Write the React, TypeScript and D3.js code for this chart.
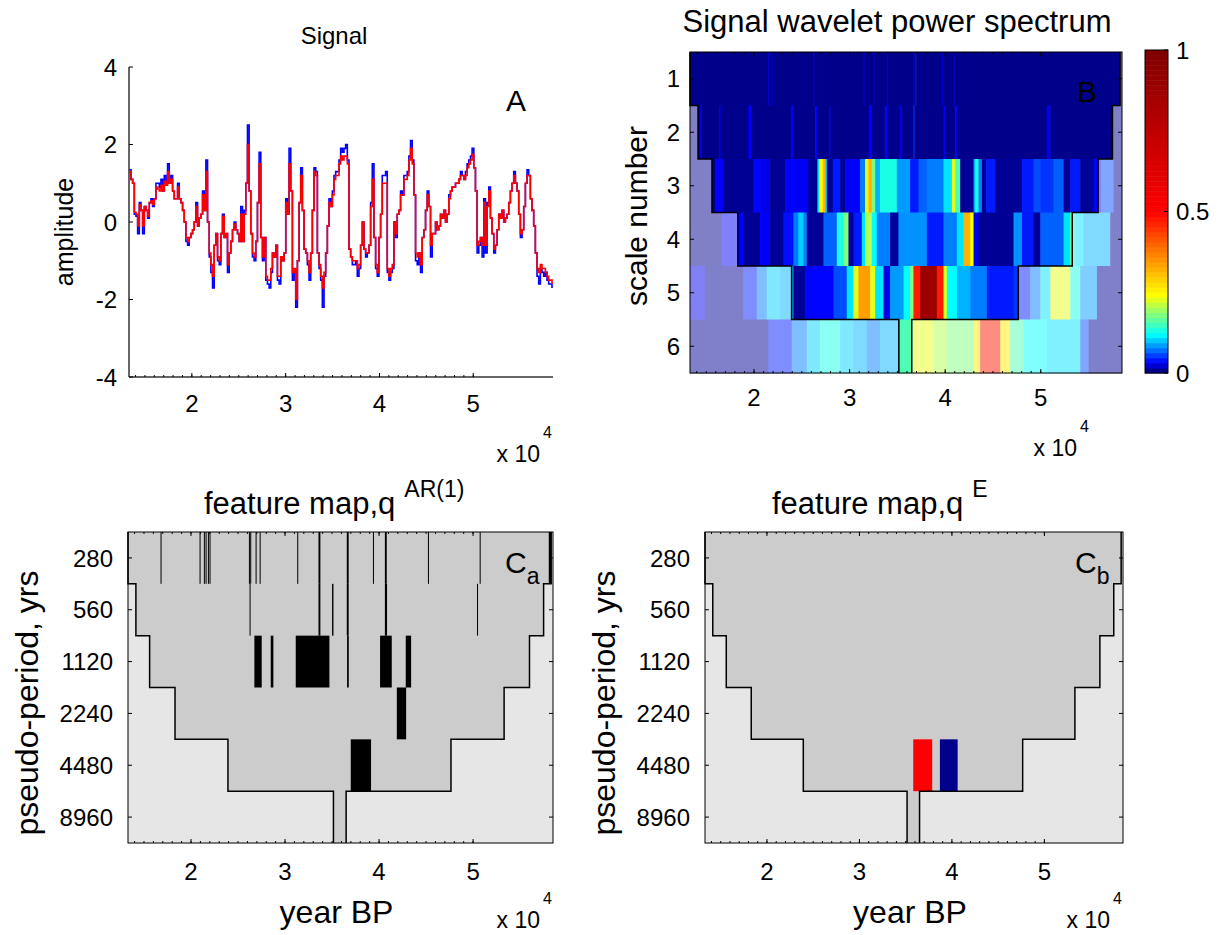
import React from 'react';
import * as d3 from 'd3';

const FONT = '"Liberation Sans", Arial, Helvetica, sans-serif';

const yearDomain = [13300, 58500];
const yearTicks = [20000, 30000, 40000, 50000];
const yearTickLabels = ['2', '3', '4', '5'];
const ampTicks = [-4, -2, 0, 2, 4];
const scaleNumbers = [1, 2, 3, 4, 5, 6];
const scaleLabels = ['1', '2', '3', '4', '5', '6'];
const periodLabels = ['280', '560', '1120', '2240', '4480', '8960'];
const colorbarTicks = [0, 0.5, 1];
const colorbarLabels = ['0', '0.5', '1'];

// colour map of the power spectrum (jet anchors placed along the power axis)
const cmapStops = [0, 0.026, 0.113, 0.237, 0.5, 1];
const cmapColors = ['#00008b', '#0000ff', '#00ffff', '#ffff00', '#ff0000', '#800000'];

// signal, one sample every 177.4 yr starting at 13335 yr BP
const signalStart = 13335;
const signalStep = 177.4;
const signalRaw = [
  1.35, 1.1, 1.0, 0.2, 0.15, -0.3, 0.5, 0.3, -0.3, 0.4,
  0.3, 0.1, 0.5, 0.6, 0.4, 0.6, 1.0, 1.0, 0.9, 1.1,
  0.8, 1.2, 1.0, 1.5, 1.0, 1.2, 0.8, 0.6, 0.6, 1.0,
  0.6, 0.5, 0.3, 0.0, -0.5, -0.6, -0.4, -0.3, -0.2, 0.0,
  0.5, -0.1, 0.1, 0.2, 0.8, 0.3, 1.6, 0.0, -0.9, -1.3,
  -1.7, -0.6, -0.3, -1.0, -1.1, -0.3, 0.2, -0.4, -0.3, -1.3,
  -0.8, -0.5, -0.2, 0.0, -0.2, -0.3, -0.5, 0.4, -0.5, 0.3,
  1.0, 2.5, 0.8, -0.3, -0.9, -1.0, -0.5, 0.5, 1.8, -0.4,
  -1.0, -0.4, -1.5, -1.6, -1.7, -1.3, -0.8, -0.9, -0.6, -1.5,
  -1.6, -0.9, -1.0, -0.8, 0.6, 0.2, 1.9, 0.8, -1.5, -1.3,
  -2.2, -1.0, 0.5, 1.4, 0.3, -0.7, -0.8, -1.1, -1.5, -0.8,
  0.3, 1.4, 1.3, -0.8, -1.2, -1.5, -2.2, -1.4, -0.8, -0.1,
  0.6, 0.4, 0.8, 1.2, 1.3, 1.3, 1.6, 1.9, 1.8, 1.9,
  2.0, 1.6, -0.7, -0.9, -1.1, -1.1, -1.0, -1.4, -1.2, -0.6,
  0.0, -0.7, -0.9, -0.8, -0.6, 0.5, 1.5, -0.4, -1.2, -1.4,
  -0.4, 0.2, 1.2, 1.2, 1.3, -1.3, -1.5, -1.3, -1.2, 0.0,
  -0.4, 0.2, 0.3, 0.8, 0.7, 1.2, 1.2, 1.3, 1.7, 2.1,
  1.6, 0.7, -1.0, -1.1, -0.8, -1.3, -0.4, -0.2, 0.3, 0.8,
  0.4, -0.9, -0.3, -0.3, 0.0, -0.2, -0.1, 0.2, 0.1, 0.3,
  0.0, 0.2, 0.7, 0.8, 0.9, 0.9, 1.0, 1.0, 1.1, 1.3,
  1.2, 1.1, 1.3, 1.5, 1.6, 1.7, 1.9, 1.4, 0.8, -0.8,
  -0.6, -0.4, -0.9, 0.6, -0.8, 0.5, 0.9, 0.1, -0.3, -0.8,
  -0.6, -0.2, 0.2, 0.1, 0.3, 0.0, 0.1, 0.2, 0.5, 0.8,
  1.0, 1.3, 1.0, 0.8, 0.2, -0.4, -0.2, 0.4, 1.0, 1.35,
  1.2, 0.6, 0.3, -0.1, -0.8, -1.4, -1.6, -1.2, -1.3, -1.4,
  -1.3, -1.5, -1.6, -1.6, -1.7,
];
const signalFiltered = [
  1.3, 1.1, 1.0, 0.25, 0.2, -0.1, 0.45, 0.3, -0.1, 0.4,
  0.3, 0.15, 0.5, 0.55, 0.45, 0.6, 0.9, 0.85, 0.8, 0.95,
  0.8, 1.05, 0.95, 1.3, 1.0, 1.1, 0.8, 0.6, 0.6, 0.9,
  0.6, 0.5, 0.3, 0.0, -0.4, -0.5, -0.4, -0.3, -0.2, 0.0,
  0.4, -0.1, 0.1, 0.2, 0.7, 0.3, 1.3, 0.0, -0.8, -1.1,
  -1.4, -0.6, -0.3, -0.9, -1.0, -0.3, 0.15, -0.4, -0.3, -1.1,
  -0.8, -0.5, -0.2, -0.05, -0.2, -0.3, -0.5, 0.2, -0.5, 0.2,
  1.0, 2.0, 0.8, -0.3, -0.8, -0.9, -0.5, 0.5, 1.5, -0.4,
  -0.9, -0.4, -1.4, -1.5, -1.5, -1.2, -0.8, -0.9, -0.6, -1.4,
  -1.4, -0.9, -1.0, -0.8, 0.5, 0.2, 1.5, 0.8, -1.3, -1.2,
  -2.0, -1.0, 0.5, 1.2, 0.3, -0.7, -0.8, -1.0, -1.3, -0.8,
  0.3, 1.3, 1.2, -0.8, -1.1, -1.4, -1.7, -1.3, -0.8, -0.1,
  0.5, 0.4, 0.7, 1.1, 1.2, 1.2, 1.5, 1.7, 1.6, 1.7,
  1.7, 1.5, -0.7, -0.9, -1.0, -1.0, -1.0, -1.2, -1.1, -0.6,
  0.0, -0.7, -0.8, -0.8, -0.6, 0.4, 1.1, -0.4, -1.1, -1.3,
  -0.4, 0.2, 1.0, 1.0, 1.0, -1.2, -1.4, -1.2, -1.1, 0.0,
  -0.3, 0.2, 0.3, 0.7, 0.7, 1.1, 1.1, 1.2, 1.6, 1.9,
  1.5, 0.7, -0.8, -0.9, -0.8, -1.1, -0.4, -0.2, 0.3, 0.7,
  0.4, -0.6, -0.3, -0.3, 0.0, -0.2, -0.1, 0.2, 0.1, 0.3,
  0.0, 0.2, 0.6, 0.8, 0.9, 0.9, 1.0, 1.0, 1.1, 1.2,
  1.2, 1.1, 1.2, 1.4, 1.5, 1.6, 1.75, 1.4, 0.8, -0.6,
  -0.5, -0.4, -0.6, 0.5, -0.6, 0.4, 0.8, 0.1, -0.3, -0.7,
  -0.6, -0.2, 0.2, 0.1, 0.3, 0.0, 0.1, 0.2, 0.5, 0.8,
  1.0, 1.2, 1.0, 0.8, 0.2, -0.3, -0.2, 0.4, 1.0, 1.2,
  1.2, 0.6, 0.3, -0.1, -0.8, -1.2, -1.3, -1.1, -1.2, -1.2,
  -1.3, -1.4, -1.5, -1.5, -1.6,
];

// cone of influence for scales 1..6 (inside = [lo, hi], yr BP)
const coneLo = [13300, 14140, 15600, 18300, 23930, 35150];
const coneHi = [58300, 57500, 56000, 53300, 47650, 36500];

// normalised wavelet power, [segment start yr, power]; a segment runs to the next start
const power1 = [
  [13300, 0], [21500, 0.021], [21600, 0], [21850, 0.017], [21950, 0], [26210, 0.021],
  [26310, 0], [31450, 0.019], [31550, 0], [32500, 0.017], [32600, 0], [33890, 0.021],
  [33990, 0], [36680, 0.025], [36780, 0], [36860, 0.021], [36960, 0], [39650, 0.017],
  [39750, 0], [40870, 0.021], [40970, 0],
];
const power2 = [
  [13300, 0], [14350, 0.021], [14500, 0], [16370, 0.021], [16500, 0], [19410, 0.025],
  [19750, 0], [23870, 0.023], [24100, 0], [26390, 0.023], [26600, 0], [27850, 0.021],
  [28000, 0], [32010, 0.025], [32350, 0], [33720, 0.025], [33950, 0], [35220, 0.021],
  [35400, 0], [36680, 0.044], [36800, 0], [39820, 0.021], [40000, 0], [41050, 0.021],
  [41300, 0], [50640, 0.025], [51000, 0],
];
const power3 = [
  [13300, 0.001], [15920, 0.025], [16790, 0.002], [19930, 0.027], [20800, 0.021], [21680, 0.002],
  [23250, 0.025], [24290, 0.023], [25690, 0.002], [26630, 0.104], [26840, 0.235], [27190, 0.316],
  [27430, 0.104], [27610, 0.002], [28240, 0.035], [29010, 0.002], [29530, 0.025], [31100, 0.069],
  [31620, 0.225], [31970, 0.316], [32320, 0.175], [32670, 0.087], [33190, 0.125], [34940, 0.079],
  [36330, 0.035], [37210, 0.059], [38080, 0.069], [39820, 0.104], [40700, 0.225], [41050, 0.15],
  [41570, 0.003], [42970, 0.087], [43140, 0.125], [43490, 0.069], [43840, 0.003], [44290, 0.035],
  [45230, 0.002], [48030, 0.035], [49250, 0.052], [49950, 0.044], [51340, 0.059], [52390, 0.003],
  [53090, 0.035], [54130, 0.003], [55530, 0.025], [56300, 0.052], [57620, 0.002],
];
const power4 = [
  [13300, 0.001], [16620, 0.025], [18880, 0.002], [20630, 0.025], [21680, 0.003], [23070, 0.031],
  [24120, 0.069], [24640, 0.097], [25170, 0.069], [25520, 0.003], [27260, 0.059], [28660, 0.125],
  [29350, 0.175], [29880, 0.003], [30400, 0.035], [31270, 0.104], [31620, 0.2], [32320, 0.114],
  [32840, 0.069], [34240, 0.004], [35110, 0.076], [38080, 0.035], [39820, 0.069], [41220, 0.104],
  [41920, 0.316], [42620, 0.235], [42970, 0.021], [43490, 0.002], [47150, 0.076], [48030, 0.035],
  [49250, 0.003], [49950, 0.059], [52390, 0.104], [53090, 0.175], [53500, 0.104], [54480, 0.087],
  [57270, 0.002],
];
const power5 = [
  [13300, 0.021], [14870, 0.002], [18880, 0.035], [20280, 0.069], [21330, 0.097], [22720, 0.087],
  [24120, 0.003], [25340, 0.027], [28310, 0.052], [29700, 0.104], [30400, 0.225], [30920, 0.337],
  [32150, 0.225], [32670, 0.104], [33540, 0.021], [34240, 0.079], [35640, 0.114], [36330, 0.175],
  [36680, 0.474], [37380, 0.88], [39130, 0.474], [39820, 0.225], [40170, 0.114], [41220, 0.087],
  [42620, 0.069], [44360, 0.035], [47150, 0.044], [47780, 0.035], [48900, 0.069], [49950, 0.104],
  [51000, 0.225], [53090, 0.125], [54130, 0.079], [55880, 0.002],
];
const power6 = [
  [13300, 0.002], [21500, 0.035], [23940, 0.069], [25520, 0.097], [26910, 0.125], [29010, 0.097],
  [30400, 0.087], [31800, 0.069], [33190, 0.087], [35220, 0.15], [36580, 0.225], [38780, 0.2],
  [40170, 0.175], [42970, 0.258], [43660, 0.474], [45760, 0.258], [46800, 0.15], [48200, 0.114],
  [50640, 0.104], [54130, 0.052], [55010, 0.002],
];
const powerRows = [power1, power2, power3, power4, power5, power6];

// feature map q^AR(1): [scale, from yr, to yr]
const featuresAR = [
  [1, 16760, 16860], [1, 20910, 21010], [1, 21370, 21470], [1, 21550, 21650], [1, 21800, 21900],
  [1, 21970, 22070], [1, 26160, 26260], [1, 26300, 26400], [1, 26870, 26970], [1, 27300, 27400],
  [1, 31300, 31400], [1, 33560, 33760], [1, 36570, 36770], [1, 39350, 39450], [1, 40620, 40820],
  [1, 45200, 45300], [1, 50700, 50800], [1, 58050, 58350],
  [2, 26230, 26330], [2, 33560, 33760], [2, 35000, 35150], [2, 36570, 36770], [2, 40620, 40850],
  [2, 50420, 50520],
  [3, 26740, 27520], [3, 28480, 28760], [3, 31140, 34720], [3, 36600, 36780], [3, 40110, 41350],
  [3, 42840, 43410],
  [4, 41890, 42880],
  [5, 36990, 39150],
];
// feature map q^E: [scale, from yr, to yr, sign]
const featuresE = [
  [5, 35820, 37870, 1],
  [5, 38700, 40620, -1],
];

const boxA = { x0: 129, x1: 553, y0: 67, y1: 377 };
const boxB = { x0: 690, x1: 1122, y0: 52, y1: 373 };
const boxCa = { x0: 128, x1: 553, y0: 532, y1: 843 };
const boxCb = { x0: 705, x1: 1123, y0: 532, y1: 843 };

const cmap = d3
  .scaleLinear<string>()
  .domain(cmapStops)
  .range(cmapColors)
  .interpolate(d3.interpolateRgb)
  .clamp(true);

const powerColor = (v: number, faded = false) => {
  const c = d3.rgb(cmap(v));
  return faded ? d3.rgb((c.r + 255) / 2, (c.g + 255) / 2, (c.b + 255) / 2).toString() : c.toString();
};

const xFor = (box: any) => d3.scaleLinear().domain(yearDomain).range([box.x0, box.x1]);
const bandFor = (box: any) => d3.scaleBand<number>().domain(scaleNumbers).range([box.y0, box.y1]).padding(0);

function YearTicks({ box, top, labelY }: any) {
  const x = xFor(box);
  const minor = d3.range(14000, 50001, 1000);
  return (
    <g stroke="#000" strokeWidth={1}>
      {minor.map((v) => (
        <line key={'mb' + v} x1={x(v)} x2={x(v)} y1={box.y1} y2={box.y1 - 2} />
      ))}
      {top && minor.map((v) => <line key={'mt' + v} x1={x(v)} x2={x(v)} y1={box.y0} y2={box.y0 + 2} />)}
      {yearTicks.map((v, i) => (
        <g key={v}>
          <line x1={x(v)} x2={x(v)} y1={box.y1} y2={box.y1 - 4} />
          {top && <line x1={x(v)} x2={x(v)} y1={box.y0} y2={box.y0 + 4} />}
          <text x={x(v)} y={labelY} textAnchor="middle" fontSize={24} stroke="none" fill="#000">
            {yearTickLabels[i]}
          </text>
        </g>
      ))}
    </g>
  );
}

function RowTicks({ box, labels, labelX }: any) {
  const band = bandFor(box);
  return (
    <g stroke="#000">
      {scaleNumbers.map((s, i) => {
        const y = band(s)! + band.bandwidth() / 2;
        return (
          <g key={s}>
            <line x1={box.x0} x2={box.x0 + 4} y1={y} y2={y} />
            <line x1={box.x1} x2={box.x1 - 4} y1={y} y2={y} />
            <text x={labelX} y={y} dy="0.36em" textAnchor="end" fontSize={24} stroke="none" fill="#000">
              {labels[i]}
            </text>
          </g>
        );
      })}
    </g>
  );
}

function ConeLine({ box }: any) {
  const x = xFor(box);
  const band = bandFor(box);
  const left: [number, number][] = [];
  const right: [number, number][] = [];
  scaleNumbers.forEach((s, i) => {
    const t = band(s)!;
    const b = t + band.bandwidth();
    left.push([x(coneLo[i]), t], [x(coneLo[i]), b]);
    right.push([x(coneHi[i]), t], [x(coneHi[i]), b]);
  });
  const line = d3.line();
  return (
    <g fill="none" stroke="#000" strokeWidth={1.5}>
      <path d={line(left)!} />
      <path d={line(right)!} />
    </g>
  );
}

function ExpLabel({ x, y }: any) {
  return (
    <g>
      <text x={x} y={y} textAnchor="end" fontSize={23}>x 10</text>
      <text x={x + 3} y={y - 24} fontSize={16}>4</text>
    </g>
  );
}

function PanelA() {
  const x = xFor(boxA);
  const y = d3.scaleLinear().domain([-4, 4]).range([boxA.y1, boxA.y0]);
  const line = d3
    .line<number>()
    .x((_, i) => x(signalStart + i * signalStep))
    .y((d) => y(d))
    .curve(d3.curveStepAfter);
  return (
    <g>
      <path d={line(signalRaw)!} fill="none" stroke="#0000ff" strokeWidth={1.6} />
      <path d={line(signalFiltered)!} fill="none" stroke="#ff0000" strokeWidth={1.6} />
      <line x1={boxA.x0} x2={boxA.x0} y1={boxA.y0} y2={boxA.y1} stroke="#333" strokeWidth={1.5} />
      <line x1={boxA.x0} x2={boxA.x1} y1={boxA.y1} y2={boxA.y1} stroke="#333" strokeWidth={1.5} />
      {ampTicks.map((v) => (
        <g key={v}>
          <line x1={boxA.x0} x2={boxA.x0 + 4} y1={y(v)} y2={y(v)} stroke="#000" />
          <text x={117} y={y(v)} dy="0.36em" textAnchor="end" fontSize={24}>{v}</text>
        </g>
      ))}
      <YearTicks box={boxA} top={false} labelY={412} />
      <ExpLabel x={540} y={462} />
      <text x={334} y={44} textAnchor="middle" fontSize={24}>Signal</text>
      <text transform="translate(73,232) rotate(-90)" textAnchor="middle" fontSize={25}>amplitude</text>
      <text x={506} y={111} fontSize={30}>A</text>
    </g>
  );
}

function PanelB() {
  const x = xFor(boxB);
  const band = bandFor(boxB);
  const cells: any[] = [];
  powerRows.forEach((row, i) => {
    const top = band(scaleNumbers[i])!;
    row.forEach((seg, j) => {
      const a = seg[0];
      const b = j + 1 < row.length ? row[j + 1][0] : yearDomain[1];
      const pieces: [number, number, boolean][] = [
        [a, Math.min(b, coneLo[i]), true],
        [Math.max(a, coneLo[i]), Math.min(b, coneHi[i]), false],
        [Math.max(a, coneHi[i]), b, true],
      ];
      pieces.forEach(([p0, p1, faded], k) => {
        if (p1 <= p0) return;
        cells.push(
          <rect
            key={`${i}-${j}-${k}`}
            x={x(p0)}
            y={top}
            width={Math.min(x(p1) - x(p0) + 0.6, boxB.x1 - x(p0))}
            height={band.bandwidth() + 0.5}
            fill={powerColor(seg[1], faded)}
          />
        );
      });
    });
  });
  const cbY = d3.scaleLinear().domain([0, 1]).range([373, 50]);
  const levels = d3.range(64);
  return (
    <g>
      <g>{cells}</g>
      <ConeLine box={boxB} />
      <rect x={boxB.x0} y={boxB.y0} width={boxB.x1 - boxB.x0} height={boxB.y1 - boxB.y0} fill="none" stroke="#000" />
      <RowTicks box={boxB} labels={scaleLabels} labelX={680} />
      <YearTicks box={boxB} top={true} labelY={406} />
      <ExpLabel x={1077} y={456} />
      <text x={897} y={32} textAnchor="middle" fontSize={31}>Signal wavelet power spectrum</text>
      <text transform="translate(647,216) rotate(-90)" textAnchor="middle" fontSize={30}>scale number</text>
      <text x={1077} y={102} fontSize={30}>B</text>
      {levels.map((l) => (
        <rect
          key={l}
          x={1145}
          y={cbY((l + 1) / 64)}
          width={23}
          height={cbY(l / 64) - cbY((l + 1) / 64) + 0.5}
          fill={powerColor(l / 63)}
        />
      ))}
      <rect x={1145} y={50} width={23} height={323} fill="none" stroke="#000" />
      {colorbarTicks.map((v, i) => (
        <g key={v}>
          <line x1={1168} x2={1164} y1={cbY(v)} y2={cbY(v)} stroke="#000" />
          <text x={1176} y={cbY(v)} dy="0.36em" fontSize={24}>{colorbarLabels[i]}</text>
        </g>
      ))}
    </g>
  );
}

function FeaturePanel({ box, features, colorOf, sup, letter, titleX }: any) {
  const x = xFor(box);
  const band = bandFor(box);
  return (
    <g>
      <rect x={box.x0} y={box.y0} width={box.x1 - box.x0} height={box.y1 - box.y0} fill="#e6e6e6" />
      {scaleNumbers.map((s, i) => (
        <rect
          key={s}
          x={x(coneLo[i])}
          y={band(s)!}
          width={x(coneHi[i]) - x(coneLo[i])}
          height={band.bandwidth() + 0.5}
          fill="#cccccc"
        />
      ))}
      {features.map((f: number[], i: number) => (
        <rect
          key={i}
          x={x(f[1])}
          y={band(f[0])!}
          width={Math.max(1, x(f[2]) - x(f[1]))}
          height={band.bandwidth()}
          fill={colorOf(f)}
        />
      ))}
      <ConeLine box={box} />
      <rect x={box.x0} y={box.y0} width={box.x1 - box.x0} height={box.y1 - box.y0} fill="none" stroke="#000" />
      <RowTicks box={box} labels={periodLabels} labelX={box.x0 - 15} />
      <YearTicks box={box} top={true} labelY={880} />
      <ExpLabel x={box.x1 - 13} y={928} />
      <text x={titleX} y={514} fontSize={31}>
        feature map,q
        <tspan dx={9} dy={-17} fontSize={23}>{sup}</tspan>
      </text>
      <text transform={`translate(${box.x0 - 90},${703}) rotate(-90)`} textAnchor="middle" fontSize={32}>
        pseudo-period, yrs
      </text>
      <text x={(box.x0 + box.x1) / 2 - 4} y={923} textAnchor="middle" fontSize={32}>year BP</text>
      <text x={box.x1 - 48} y={573} fontSize={30}>
        C<tspan dy={11} fontSize={23}>{letter}</tspan>
      </text>
    </g>
  );
}

export default function App() {
  return (
    <svg
      width={1220}
      height={935}
      style={{ position: 'absolute', left: 0, top: 0, background: '#fff' }}
      fontFamily={FONT}
    >
      <rect width={1220} height={935} fill="#fff" />
      <PanelA />
      <PanelB />
      <FeaturePanel box={boxCa} features={featuresAR} colorOf={() => '#000'} sup="AR(1)" letter="a" titleX={204} />
      <FeaturePanel
        box={boxCb}
        features={featuresE}
        colorOf={(f: number[]) => (f[3] > 0 ? '#ff0000' : '#00008b')}
        sup="E"
        letter="b"
        titleX={772}
      />
    </svg>
  );
}
